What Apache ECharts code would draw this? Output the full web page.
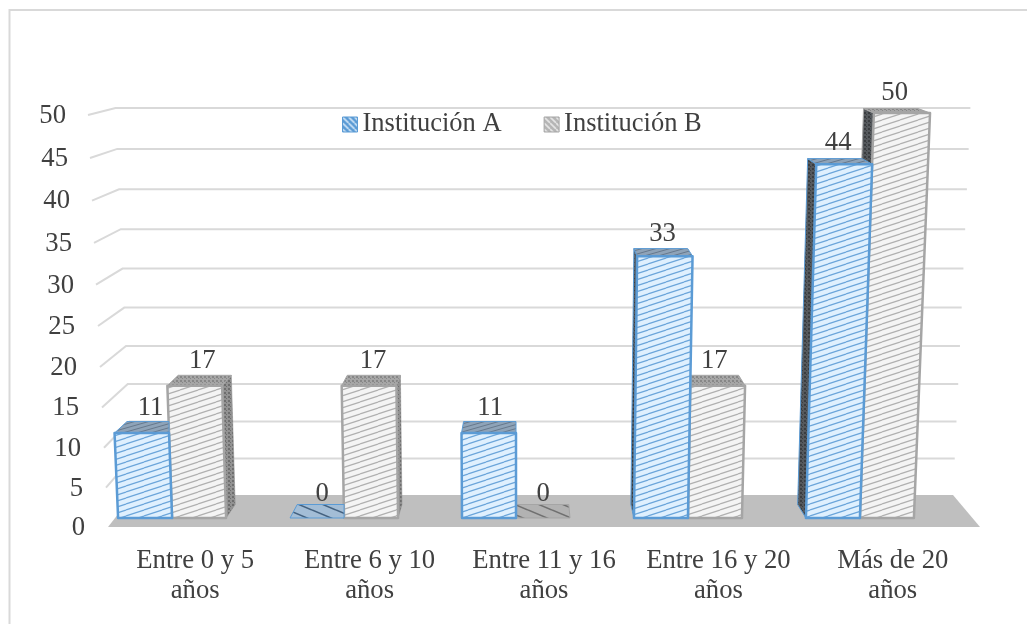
<!DOCTYPE html>
<html>
<head>
<meta charset="utf-8">
<script src="https://cdn.jsdelivr.net/npm/echarts@6/dist/echarts.min.js"></script>
<style>html,body{margin:0;padding:0;background:#fff}#chart{width:1027px;height:624px}</style>
</head>
<body>
<div id="chart"></div>
<script>
const categories = ['Entre 0 y 5\naños', 'Entre 6 y 10\naños', 'Entre 11 y 16\naños', 'Entre 16 y 20\naños', 'Más de 20\naños'];
const institucionA = [11, 0, 11, 33, 44];
const institucionB = [17, 17, 0, 17, 50];
const seriesNames = ['Institución A', 'Institución B'];
const valueTicks = [0, 5, 10, 15, 20, 25, 30, 35, 40, 45, 50];

const FONT = '"Liberation Serif","Times New Roman",serif';
const TEXT = '#404040';
const TEXT_SIZE = 26.7;
const PX_PER_UNIT = 8.24;
const CENTER_X = 544;
const VANISH_X = 530;

// Repeating hatch used to fill the bar faces.
function hatch(bg, line, w, h, lw, flip) {
  const c = document.createElement('canvas');
  c.width = w; c.height = h;
  const g = c.getContext('2d');
  g.fillStyle = bg; g.fillRect(0, 0, w, h);
  g.strokeStyle = line; g.lineWidth = lw;
  for (const dy of [-h, 0, h]) {
    g.beginPath();
    if (flip) { g.moveTo(0, dy); g.lineTo(w, dy + h); }
    else { g.moveTo(0, dy + h); g.lineTo(w, dy); }
    g.stroke();
  }
  return { image: c, repeat: 'repeat' };
}
function dots(bg, dot) {
  const c = document.createElement('canvas');
  c.width = 4; c.height = 4;
  const g = c.getContext('2d');
  g.fillStyle = bg; g.fillRect(0, 0, 4, 4);
  g.fillStyle = dot; g.fillRect(0, 0, 2, 2); g.fillRect(2, 2, 1, 1);
  return { image: c, repeat: 'repeat' };
}

const faces = [
  { front: hatch('#dff0fe', '#6ba5da', 18, 6, 1.2), top: hatch('#8ea3b8', '#66788c', 14, 4, 1),
    flat: hatch('#a3bdd6', '#44617f', 24, 10, 1.6, true),
    side: dots('#55595d', '#3a3d40'), edge: '#5b9bd5',
    legend: hatch('#5b9bd5', '#cfe4f7', 6, 6, 1.6, true) },
  { front: hatch('#f4f4f4', '#b0b0b0', 18, 6, 1.2), top: dots('#a6a6a6', '#878787'),
    flat: hatch('#b2b2b2', '#707070', 24, 10, 1.6, true),
    side: dots('#929292', '#6e6e6e'), edge: '#a5a5a5',
    legend: hatch('#b5b5b5', '#e6e6e6', 6, 6, 1.6, true) }
];

// Camera model: the axis gives a flat position, these functions tilt it into the scene.
function heightOf(y0, y) { return (y0 - y) / PX_PER_UNIT; }
function barFront(x, v, y0) {
  const s = 0.986 * (1 + 0.00081 * v);
  return [CENTER_X - 28 + (x - CENTER_X) * s, y0 - 9 - v * (7.615 + 0.0097 * v)];
}
function barBack(p, v) {
  return [p[0] - (p[0] - VANISH_X) * 0.03, p[1] - (13.5 - 0.18 * v)];
}
function wallPoints(v, y0, xl, xr) {
  const s = 1 + 0.00085 * v;
  const yBack = y0 - 32 - v * (7.255 + 0.0097 * v);
  const yFront = y0 - v * (7.84 + 0.008 * v);
  const xFront = xl - 0.4 * v;
  const backL = CENTER_X + (xl + 25 - CENTER_X) * s;
  const backR = CENTER_X + (xr - 27 - CENTER_X) * s;
  return [[xFront, yFront], [backL, yBack], [backR, yBack]];
}

function renderWall(params, api) {
  const v = api.value(0);
  const y0 = api.coord([0, 0])[1];
  const cs = params.coordSys;
  const pts = wallPoints(v, y0, cs.x, cs.x + cs.width);
  if (v === 0) {
    return { type: 'polygon', shape: { points: [[cs.x, y0], pts[1], pts[2], [cs.x + cs.width, y0]] },
      style: { fill: '#bfbfbf' } };
  }
  return { type: 'polyline', shape: { points: pts }, style: { stroke: '#d9d9d9', lineWidth: 2, fill: null } };
}

function renderBar(seriesIndex) {
  return function (params, api) {
    const idx = api.value(0), v = api.value(1);
    const style = faces[seriesIndex];
    const c0 = api.coord([idx, 0]);
    const top = api.coord([idx, v]);
    const band = api.size([1, 0])[0];
    const barW = band * 0.314;
    const x0 = seriesIndex === 0 ? c0[0] - barW : c0[0];
    const x1 = x0 + barW;
    const val = heightOf(c0[1], top[1]);
    const bl = barFront(x0, 0, c0[1]), br = barFront(x1, 0, c0[1]);
    const tl = barFront(x0, val, c0[1]), tr = barFront(x1, val, c0[1]);
    const tlb = barBack(tl, val), trb = barBack(tr, val);
    const brb = barBack(br, 0), blb = barBack(bl, 0);
    // On the left of the scene the neighbouring bar hides this one's far right corner.
    if (seriesIndex === 0 && tr[0] < VANISH_X) { trb[0] = tr[0]; brb[0] = br[0]; }
    const children = [];
    if (val === 0) {
      children.push({ type: 'polygon', shape: { points: [bl, br, brb, blb] },
        style: { fill: style.flat, stroke: style.edge, lineWidth: 1 } });
    } else {
      // Only the faces turned towards the camera are drawn.
      if (seriesIndex === 1 && tr[0] < VANISH_X) {
        children.push({ type: 'polygon', shape: { points: [br, tr, trb, brb] }, style: { fill: style.side, stroke: '#8a8a8a', lineWidth: 0.5 } });
      }
      if (tl[0] > 600) {
        children.push({ type: 'polygon', shape: { points: [bl, tl, tlb, blb] }, style: { fill: faces[0].side, stroke: style.edge, lineWidth: 1 } });
      }
      children.push({ type: 'polygon', shape: { points: [tl, tr, trb, tlb] }, style: { fill: style.top, stroke: style.edge, lineWidth: 1 } });
      children.push({ type: 'polygon', shape: { points: [bl, br, tr, tl] }, style: { fill: style.front, stroke: style.edge, lineWidth: 2.5, lineJoin: 'round' } });
    }
    // Value sits just above the far edge of the bar's top face.
    const cx = (tl[0] + tr[0]) / 2 + (tlb[0] - tl[0]) * 0.7;
    const labelY = Math.min(tlb[1], trb[1]) + (val === 0 ? 3 : 0.5 - 0.06 * val);
    children.push({ type: 'text', z2: 50, style: { text: String(Math.round(val)), x: cx, y: labelY,
      align: 'center', verticalAlign: 'bottom', font: TEXT_SIZE + 'px ' + FONT, fill: TEXT } });
    return { type: 'group', children };
  };
}

// Tick labels follow the tilted left edge of the wall.
const richLabels = {};
valueTicks.forEach(t => {
  const drop = Math.max(0, 0.4 * t - 0.008 * t * t) + 1;
  richLabels['t' + t] = { fontFamily: FONT, fontSize: TEXT_SIZE, color: TEXT,
    padding: [Math.round(drop * 2), Math.round(0.38 * t), 0, 0] };
});

const chart = echarts.init(document.getElementById('chart'), null, { renderer: 'canvas' });
chart.setOption({
  animation: false,
  backgroundColor: '#fff',
  graphic: [{ type: 'rect', shape: { x: 9.5, y: 10, width: 1100, height: 700 },
    style: { fill: 'none', stroke: '#d9d9d9', lineWidth: 2 }, silent: true, z: -10 }],
  grid: { left: 108, right: 47, top: 115, bottom: 97, containLabel: false },
  legend: {
    top: 106, left: 337, itemGap: 42, itemWidth: 15, itemHeight: 15, icon: 'rect',
    textStyle: { fontFamily: FONT, fontSize: 26.5, color: TEXT },
    data: [
      { name: seriesNames[0], itemStyle: { color: faces[0].legend, borderColor: '#5b9bd5', borderWidth: 1 } },
      { name: seriesNames[1], itemStyle: { color: faces[1].legend, borderColor: '#a5a5a5', borderWidth: 1 } }
    ]
  },
  xAxis: {
    type: 'category', data: categories,
    axisLine: { show: false }, axisTick: { show: false }, splitLine: { show: false },
    axisLabel: { fontFamily: FONT, fontSize: TEXT_SIZE, color: TEXT, lineHeight: 30, margin: 19, interval: 0 }
  },
  yAxis: {
    type: 'value', min: 0, max: 50, interval: 5,
    axisLine: { show: false }, axisTick: { show: false }, splitLine: { show: false },
    axisLabel: { margin: 23, rich: richLabels, formatter: v => '{t' + v + '|' + v + '}' }
  },
  series: [
    { type: 'custom', name: 'muro', silent: true, z: 1, renderItem: renderWall,
      data: valueTicks.map(t => [t]), encode: { y: 0 } },
    { type: 'custom', name: seriesNames[0], z: 3, renderItem: renderBar(0), itemStyle: { color: '#5b9bd5' },
      data: institucionA.map((v, i) => [i, v]), encode: { x: 0, y: 1 } },
    { type: 'custom', name: seriesNames[1], z: 2, renderItem: renderBar(1), itemStyle: { color: '#a5a5a5' },
      data: institucionB.map((v, i) => [i, v]), encode: { x: 0, y: 1 } }
  ]
});
</script>
</body>
</html>
